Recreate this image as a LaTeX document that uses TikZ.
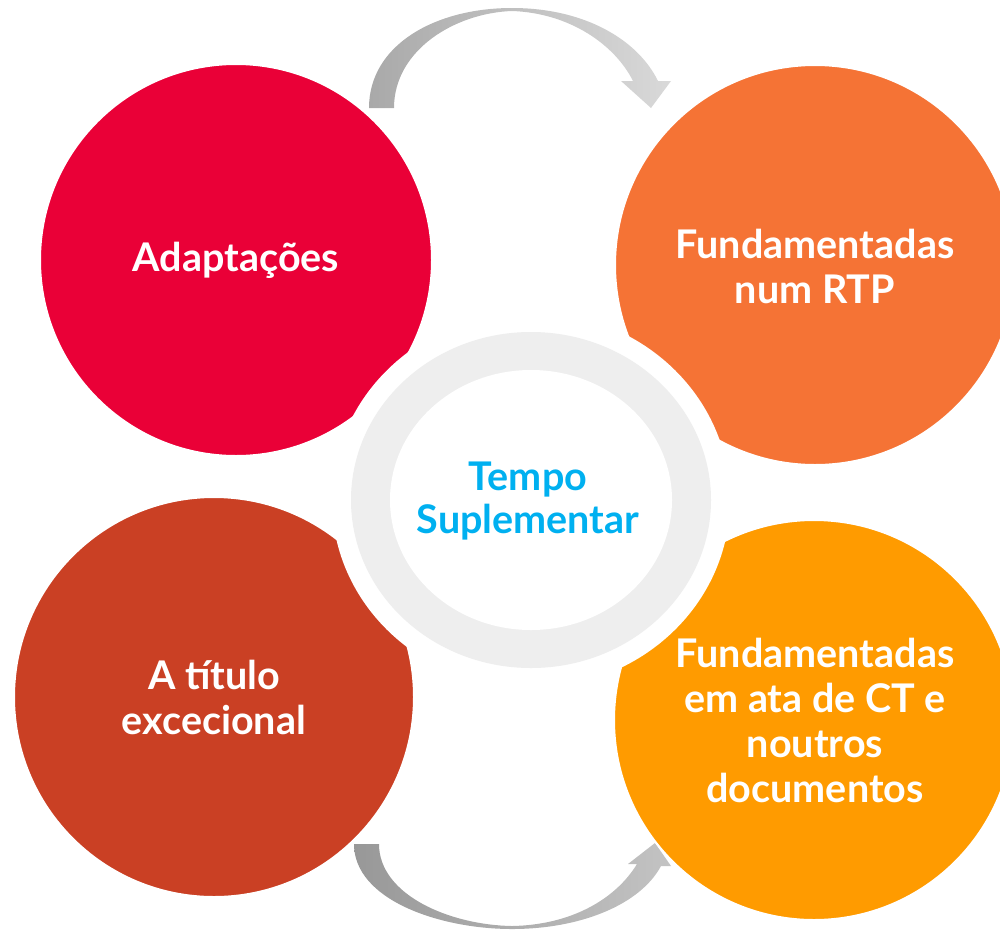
\documentclass[tikz,border=0pt]{standalone}
\usepackage{fontspec}
\setmainfont{Lato}
\definecolor{cRed}{HTML}{EA0037}
\definecolor{cOrange}{HTML}{F57335}
\definecolor{cBrown}{HTML}{CA4024}
\definecolor{cYellow}{HTML}{FF9B00}
\definecolor{cBlue}{HTML}{00B0F0}
\definecolor{cRing}{HTML}{EEEEEE}
\definecolor{aTopL}{HTML}{A9A9A9}
\definecolor{aTopR}{HTML}{D9D9D9}
\definecolor{aBotL}{HTML}{989898}
\definecolor{aBotR}{HTML}{C3C3C3}
\tikzset{
  bubble/.style={circle, draw=white, line width=2pt, minimum size=400pt, inner sep=0pt},
  lbl/.style={text=white, align=center, font=\bfseries\fontsize{39.5}{45}\selectfont},
  ctr/.style={text=cBlue, align=center, font=\bfseries\fontsize{39.5}{43}\selectfont}
}
\begin{document}
\begin{tikzpicture}[x=1pt,y=-1pt]
\useasboundingbox (0,0) rectangle (1000,929);
% arrows
\shade[left color=aTopL, right color=aTopR]
  (369,108) .. controls (369,45) and (435,8) .. (512,8)
  .. controls (585,8) and (638,40) .. (658,81)
  -- (671,81) -- (651,108) -- (621,81) -- (633,81)
  .. controls (615,45) and (570,13) .. (512,11)
  .. controls (455,13) and (394,50) .. (394,108) -- cycle;
\shade[left color=aBotL, right color=aBotR]
  (354,844) .. controls (354,900) and (440,929) .. (512,929)
  .. controls (580,929) and (640,905) .. (661,866)
  -- (671,866) -- (655,843) -- (628,864) -- (637,864)
  .. controls (615,900) and (570,925) .. (512,926)
  .. controls (450,925) and (379,895) .. (379,844) -- cycle;
% circles
\node[bubble, fill=cRed, minimum size=392pt] (c1) at (236,260) {};
\node[bubble, fill=cOrange] (c2) at (815,265) {};
\node[bubble, fill=cBrown] (c3) at (214,697) {};
\node[bubble, fill=cYellow] (c4) at (814,720) {};
% centre ring
\fill[white] (531,500) ellipse [x radius=199pt, y radius=188pt];
\fill[cRing] (531,500) ellipse [x radius=180pt, y radius=168pt];
\fill[white] (531,500) ellipse [x radius=141pt, y radius=130pt];
% labels
\node[lbl] (t1) at (236,260) {Adaptações};
\node[lbl] (t2) at (815,266) {Fundamentadas\\num RTP};
\node[lbl] (t3) at (214,697) {A título\\excecional};
\node[lbl] (t4) at (815,720) {Fundamentadas\\em ata de CT e\\noutros\\documentos};
\node[ctr] (t0) at (528,501) {Tempo\\Suplementar};
\end{tikzpicture}
\end{document}
